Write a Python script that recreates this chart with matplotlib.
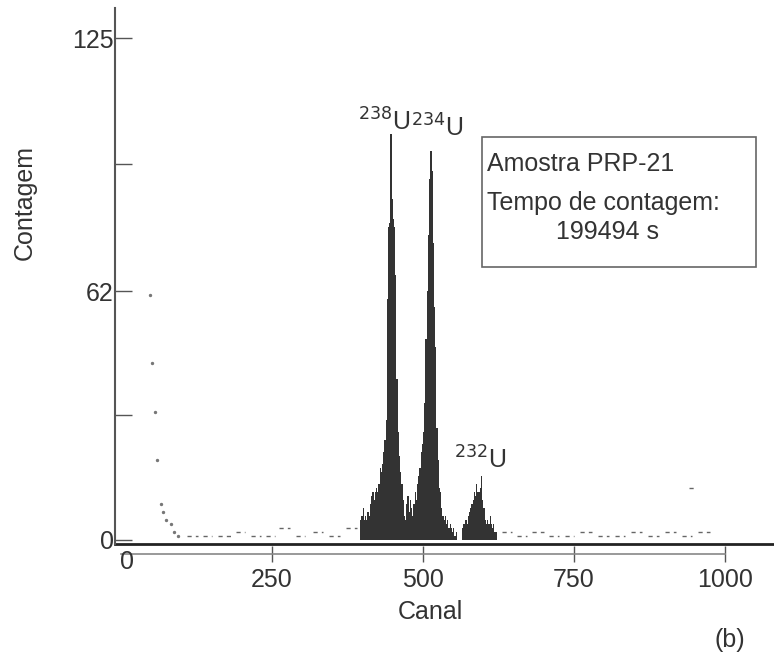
import matplotlib
matplotlib.use('Agg')
import matplotlib.pyplot as plt
from matplotlib.patches import Rectangle

plt.rcParams['font.family'] = ['Liberation Sans', 'DejaVu Sans']

# alpha spectrum, 2-channel bins (channel, counts)
u_ch = list(range(396, 556, 2))
u_counts = [5, 6, 8, 5, 6, 5, 7, 6, 9, 11,
            12, 10, 12, 13, 12, 14, 18, 17, 19, 22,
            25, 30, 60, 78, 79, 101, 85, 80, 78, 66,
            40, 27, 21, 17, 14, 10, 6, 5, 9, 11,
            7, 10, 8, 6, 9, 12, 10, 14, 16, 18,
            22, 24, 27, 34, 50, 62, 76, 90, 97, 92,
            74, 58, 48, 28, 20, 13, 12, 8, 6, 5,
            6, 4, 5, 3, 4, 3, 2, 3, 1, 2]

u232_ch = list(range(564, 622, 2))
u232_counts = [3, 4, 4, 5, 4, 6, 7, 8, 9, 10,
               12, 11, 14, 12, 12, 13, 16, 10, 8, 5,
               4, 5, 4, 6, 4, 3, 4, 2, 2]

# low-channel tail (single points)
tail_ch = [48, 51, 57, 60, 66, 70, 74, 82, 88, 94]
tail_counts = [61, 44, 32, 20, 9, 7, 5, 4, 2, 1]

# sparse background counts: start channel, end channel, counts
bg_start = [110, 135, 160, 190, 215, 240, 262, 290, 318, 345, 372,
            630, 655, 680, 708, 735, 760, 790, 818, 845, 872, 900, 928, 955, 940]
bg_end = [128, 150, 182, 205, 232, 255, 280, 305, 335, 362, 390,
          648, 672, 700, 725, 750, 780, 808, 835, 862, 890, 918, 945, 975, 948]
bg_counts = [1, 1, 1, 2, 1, 1, 3, 1, 2, 1, 3,
             2, 1, 2, 1, 1, 2, 1, 1, 2, 1, 2, 1, 2, 13]

ink = '#333333'
axc = '#555555'

fig = plt.figure(figsize=(7.74, 6.57), dpi=100)
ax = fig.add_axes([115 / 774, 113 / 657, 1 - 115 / 774, 536 / 657])

ax.bar(u_ch, u_counts, width=2, align='edge', color=ink, linewidth=0)
ax.bar(u232_ch, u232_counts, width=2, align='edge', color=ink, linewidth=0)
ax.scatter(tail_ch, tail_counts, s=2, color='#777777')
ax.hlines(bg_counts, bg_start, bg_end, color='#666666', lw=1, linestyles=(0, (3, 3)))

ax.set_xlim(-10, 1081)
ax.set_ylim(-1, 132.5)

for s in ['top', 'right']:
    ax.spines[s].set_visible(False)
ax.spines['left'].set_color(axc)
ax.spines['left'].set_linewidth(1.5)
ax.spines['bottom'].set_position(('outward', 7))
ax.spines['bottom'].set_bounds(0, 1000)
ax.spines['bottom'].set_color('#888888')
ax.spines['bottom'].set_linewidth(1.2)
ax.axhline(-1, color='#222222', lw=2, clip_on=False)

ax.set_xticks([250, 500, 750, 1000])
ax.set_yticks([0, 62, 125])
ax.set_yticks([31.25, 93.75], minor=True)
ax.tick_params(axis='x', direction='inout', length=12, width=1, color=axc,
               labelsize=18, labelcolor=ink, pad=4)
ax.tick_params(axis='y', which='both', direction='in', length=12, width=1, color=axc,
               labelsize=18, labelcolor=ink, pad=1)

fig.text(127 / 774, 1 - 562 / 657, '0', fontsize=18, color=ink, ha='center', va='center')
fig.text(430 / 774, 1 - 612 / 657, 'Canal', fontsize=18, color=ink, ha='center', va='center')
fig.text(25 / 774, 1 - 202 / 657, 'Contagem', fontsize=18, color=ink, ha='center',
         va='center', rotation=90)
fig.text(730 / 774, 1 - 640 / 657, '(b)', fontsize=18, color=ink, ha='center', va='center')

# peak labels
ax.text(435, 104, r'$^{238}$U', fontsize=18, color=ink, ha='center', va='center')
ax.text(523, 102.5, r'$^{234}$U', fontsize=18, color=ink, ha='center', va='center')
ax.text(595, 20, r'$^{232}$U', fontsize=18, color=ink, ha='center', va='center')

# info box
fig.patches.append(Rectangle((482 / 774, 1 - 267 / 657), 274 / 774, 130 / 657,
                             transform=fig.transFigure, fill=False,
                             edgecolor='#666666', lw=1.2))
fig.text(487 / 774, 1 - 164 / 657, 'Amostra PRP-21', fontsize=18, color=ink, va='center')
fig.text(487 / 774, 1 - 203 / 657, 'Tempo de contagem:', fontsize=18, color=ink, va='center')
fig.text(607 / 774, 1 - 232 / 657, '199494 s', fontsize=18, color=ink, ha='center', va='center')

fig.savefig('out.png', dpi=100)
